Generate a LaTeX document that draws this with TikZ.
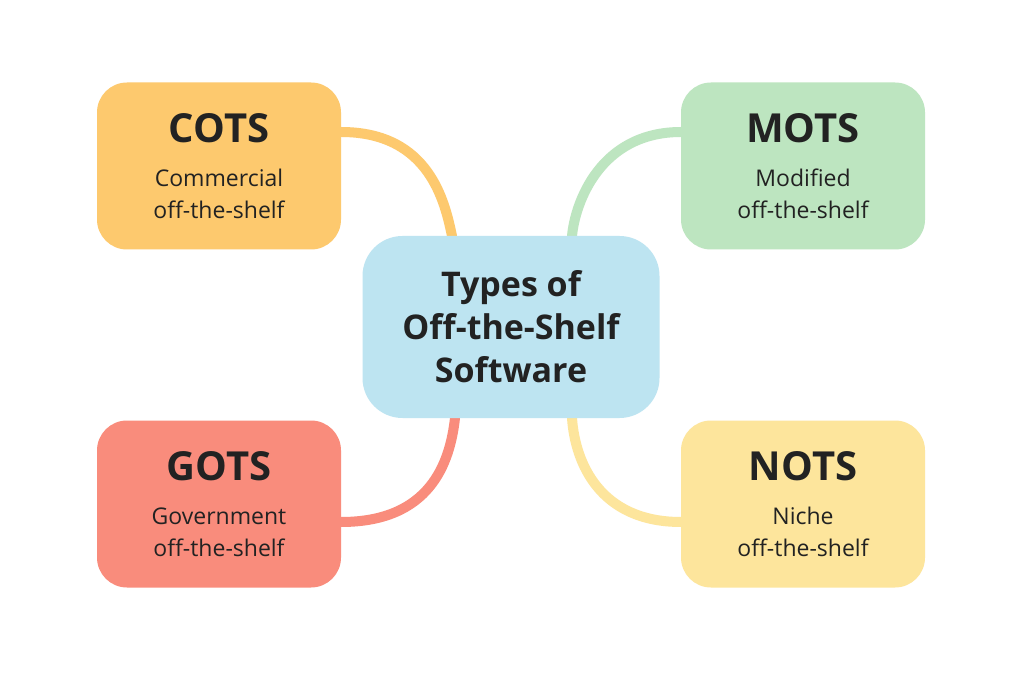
\documentclass[tikz,border=0pt]{standalone}
\usepackage{fontspec}
\setmainfont{Open Sans}
\definecolor{cOr}{HTML}{FDC96E}
\definecolor{cGr}{HTML}{BDE5C0}
\definecolor{cBl}{HTML}{BDE4F1}
\definecolor{cRd}{HTML}{F98C7C}
\definecolor{cYe}{HTML}{FDE59C}
\definecolor{txt}{HTML}{222222}
\newcommand{\bigT}[1]{{\fontsize{40}{46}\selectfont\bfseries #1}}
\begin{document}
\begin{tikzpicture}[x=1pt,y=1pt,
  box/.style={rounded corners=30pt,minimum width=244pt,minimum height=167pt,align=center,text=txt,inner sep=0pt,font=\fontsize{23}{32}\selectfont},
  link/.style={line width=10pt,line cap=round}]
\useasboundingbox[fill=white] (0,0) rectangle (1024,683);
\coordinate (c1) at (341,551);
\coordinate (c2) at (681,551);
\coordinate (c3) at (341,161);
\coordinate (c4) at (681,161);
\coordinate (t1) at (452,447);
\coordinate (t2) at (572,447);
\coordinate (b1) at (455,265);
\coordinate (b2) at (572,265);
\draw[link,cOr] (c1) .. controls (430,551) and (445,480) .. (t1);
\draw[link,cGr] (c2) .. controls (600,551) and (575,480) .. (t2);
\draw[link,cRd] (c3) .. controls (430,161) and (450,220) .. (b1);
\draw[link,cYe] (c4) .. controls (600,161) and (575,220) .. (b2);
\node[box,fill=cOr] (cots) at (219,517) {\bigT{COTS}\\[12pt]Commercial\\off-the-shelf};
\node[box,fill=cGr] (mots) at (803,517) {\bigT{MOTS}\\[12pt]Modified\\off-the-shelf};
\node[box,fill=cRd] (gots) at (219,179) {\bigT{GOTS}\\[12pt]Government\\off-the-shelf};
\node[box,fill=cYe] (nots) at (803,179) {\bigT{NOTS}\\[12pt]Niche\\off-the-shelf};
\node[box,fill=cBl,minimum width=297pt,minimum height=182pt,rounded corners=40pt,font=\fontsize{34}{43}\selectfont\bfseries] (center) at (511,356) {Types of\\Off-the-Shelf\\Software};
\end{tikzpicture}
\end{document}
